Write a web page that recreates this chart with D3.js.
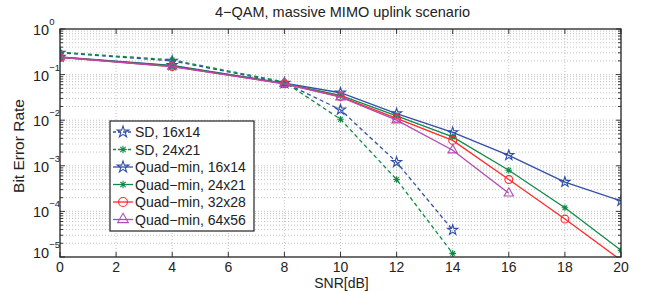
<!DOCTYPE html>
<html>
<head>
<meta charset="utf-8">
<script src="https://cdn.jsdelivr.net/npm/d3@7"></script>
<style>
  body { margin: 0; background: #fff; }
  svg { font-family: "Liberation Sans", Arial, sans-serif; }
  .grid line { stroke: #b4b4b4; stroke-width: 0.8; stroke-dasharray: 1,2; }
</style>
</head>
<body>
<div class="chart"></div>
<script>
const snr = [0, 2, 4, 6, 8, 10, 12, 14, 16, 18, 20];
const xTicks = [0, 2, 4, 6, 8, 10, 12, 14, 16, 18, 20];
const yTickExps = [0, -1, -2, -3, -4, -5];

// BER values (null = no point)
const sd16 = [0.30, null, 0.20, null, 0.066, 0.017, 0.0012, 0.000039, null, null, null];
const sd24 = [0.31, null, 0.21, null, 0.069, 0.0105, 0.00050, 0.000012, null, null, null];
const quad16 = [0.245, null, 0.16, null, 0.065, 0.040, 0.014, 0.0054, 0.0017, 0.00044, 0.00017];
const quad24 = [0.24, null, 0.155, null, 0.064, 0.035, 0.0125, 0.0043, 0.00080, 0.00012, 0.000014];
const quad32 = [0.24, null, 0.15, null, 0.063, 0.033, 0.011, 0.0036, 0.00050, 0.000068, 0.0000085];
const quad64 = [0.24, null, 0.15, null, 0.063, 0.032, 0.010, 0.0022, 0.00025, null, null];

const seriesNames = ["SD, 16x14", "SD, 24x21", "Quad\u2212min, 16x14", "Quad\u2212min, 24x21", "Quad\u2212min, 32x28", "Quad\u2212min, 64x56"];

const width = 651, height = 293;
const margin = { top: 29, right: 30, bottom: 36, left: 60 };

const svg = d3.select(".chart").append("svg")
  .attr("width", width)
  .attr("height", height);

const xScale = d3.scaleLinear().domain([0, 20]).range([margin.left, width - margin.right]);
const yScale = d3.scaleLog().domain([1e-5, 1]).range([height - margin.bottom, margin.top]);

const x0 = xScale.range()[0], x1 = xScale.range()[1];
const yb = yScale.range()[0], yt = yScale.range()[1];

// minor log positions
let minorVals = [];
for (let e = -5; e < 0; e++) {
  for (let m = 2; m <= 9; m++) minorVals.push(m * Math.pow(10, e));
}
const majorVals = yTickExps.map(e => Math.pow(10, e));

// grid
const grid = svg.append("g").attr("class", "grid");
grid.selectAll(".gx").data(xTicks.slice(1, -1)).enter().append("line")
  .attr("x1", d => xScale(d)).attr("x2", d => xScale(d))
  .attr("y1", yt).attr("y2", yb);
grid.selectAll(".gy").data(minorVals.concat(majorVals.slice(1, -1))).enter().append("line")
  .attr("x1", x0).attr("x2", x1)
  .attr("y1", d => yScale(d)).attr("y2", d => yScale(d));

// axis ticks (inward on all sides)
const ticks = svg.append("g").attr("stroke", "#222").attr("stroke-width", 0.9);
xTicks.forEach(t => {
  ticks.append("line").attr("x1", xScale(t)).attr("x2", xScale(t)).attr("y1", yb).attr("y2", yb - 5);
  ticks.append("line").attr("x1", xScale(t)).attr("x2", xScale(t)).attr("y1", yt).attr("y2", yt + 5);
});
majorVals.forEach(v => {
  ticks.append("line").attr("x1", x0).attr("x2", x0 + 5).attr("y1", yScale(v)).attr("y2", yScale(v));
  ticks.append("line").attr("x1", x1).attr("x2", x1 - 5).attr("y1", yScale(v)).attr("y2", yScale(v));
});
minorVals.forEach(v => {
  ticks.append("line").attr("x1", x0).attr("x2", x0 + 3).attr("y1", yScale(v)).attr("y2", yScale(v));
  ticks.append("line").attr("x1", x1).attr("x2", x1 - 3).attr("y1", yScale(v)).attr("y2", yScale(v));
});

// tick labels
svg.append("g").selectAll("text").data(xTicks).enter().append("text")
  .attr("x", d => xScale(d)).attr("y", yb + 15)
  .attr("text-anchor", "middle").attr("font-size", 14).attr("fill", "#222")
  .text(d => d);

const yLab = svg.append("g");
yTickExps.forEach(e => {
  const y = yScale(Math.pow(10, e)) + (e === -5 ? 1 : 6);
  const t = yLab.append("text").attr("x", 33).attr("y", y)
    .attr("font-size", 14.5).attr("fill", "#222");
  t.append("tspan").text("10");
  t.append("tspan").attr("dy", -10).attr("font-size", 9.5)
    .text(e === 0 ? "0" : "\u2212" + Math.abs(e));
});

// axis titles
svg.append("text").attr("x", (x0 + x1) / 2 + 1).attr("y", 288)
  .attr("text-anchor", "middle").attr("font-size", 14).attr("fill", "#222")
  .text("SNR[dB]");
svg.append("text")
  .attr("transform", `translate(24, ${(yt + yb) / 2 + 3}) rotate(-90)`)
  .attr("text-anchor", "middle").attr("font-size", 15.5).attr("fill", "#222")
  .text("Bit Error Rate");
svg.append("text").attr("x", (x0 + x1) / 2 + 2).attr("y", 17)
  .attr("text-anchor", "middle").attr("font-size", 14.5).attr("fill", "#222")
  .text("4\u2212QAM, massive MIMO uplink scenario");

// marker shapes
const asterisk = {
  draw(ctx, size) {
    const r = Math.sqrt(size) / 2, d = r * 0.7071;
    ctx.moveTo(-r, 0); ctx.lineTo(r, 0);
    ctx.moveTo(0, -r); ctx.lineTo(0, r);
    ctx.moveTo(-d, -d); ctx.lineTo(d, d);
    ctx.moveTo(-d, d); ctx.lineTo(d, -d);
  }
};

const blue = "#2f4fa8", green = "#0f8a45", red = "#ff2a2a", magenta = "#b24ab2";
const series = [
  { name: seriesNames[0], values: sd16, color: blue, dash: "4,3", symbol: d3.symbolStar, size: 32 },
  { name: seriesNames[1], values: sd24, color: green, dash: "4,3", symbol: asterisk, size: 44 },
  { name: seriesNames[2], values: quad16, color: blue, dash: null, symbol: d3.symbolStar, size: 32 },
  { name: seriesNames[3], values: quad24, color: green, dash: null, symbol: asterisk, size: 44 },
  { name: seriesNames[4], values: quad32, color: red, dash: null, symbol: d3.symbolCircle, size: 48 },
  { name: seriesNames[5], values: quad64, color: magenta, dash: null, symbol: d3.symbolTriangle, size: 38 }
];

svg.append("clipPath").attr("id", "plotclip").append("rect")
  .attr("x", x0).attr("y", yt).attr("width", x1 - x0).attr("height", yb - yt);

const plot = svg.append("g").attr("clip-path", "url(#plotclip)");

const line = d3.line()
  .defined(d => d.v !== null)
  .x(d => xScale(d.x))
  .y(d => yScale(d.v));

series.forEach(s => {
  const pts = snr.map((x, i) => ({ x: x, v: s.values[i] })).filter(d => d.v !== null);
  plot.append("path").datum(pts)
    .attr("d", line)
    .attr("fill", "none")
    .attr("stroke", s.color)
    .attr("stroke-width", 1.3)
    .attr("stroke-dasharray", s.dash);
  plot.selectAll(null).data(pts.filter(d => d.v >= 1e-5)).enter().append("path")
    .attr("d", d3.symbol().type(s.symbol).size(s.size))
    .attr("transform", d => `translate(${xScale(d.x)},${yScale(d.v)})`)
    .attr("fill", "none")
    .attr("stroke", s.color)
    .attr("stroke-width", 1.1);
});

// frame
svg.append("rect").attr("x", x0).attr("y", yt).attr("width", x1 - x0).attr("height", yb - yt)
  .attr("fill", "none").attr("stroke", "#222").attr("stroke-width", 1.3);

// legend
const lg = svg.append("g").attr("transform", "translate(110,121)");
lg.append("rect").attr("width", 144).attr("height", 110)
  .attr("fill", "#fff").attr("stroke", "#222").attr("stroke-width", 1.2);
series.forEach((s, i) => {
  const y = 11 + i * 17.5;
  lg.append("line").attr("x1", 3).attr("x2", 23).attr("y1", y).attr("y2", y)
    .attr("stroke", s.color).attr("stroke-width", 1.3).attr("stroke-dasharray", s.dash ? "3,2" : null);
  lg.append("path").attr("d", d3.symbol().type(s.symbol).size(s.size * 1.3))
    .attr("transform", `translate(13,${y})`)
    .attr("fill", "none").attr("stroke", s.color).attr("stroke-width", 1.1);
  lg.append("text").attr("x", 25).attr("y", y + 5)
    .attr("font-size", 14).attr("fill", "#222").text(s.name);
});
</script>
</body>
</html>
